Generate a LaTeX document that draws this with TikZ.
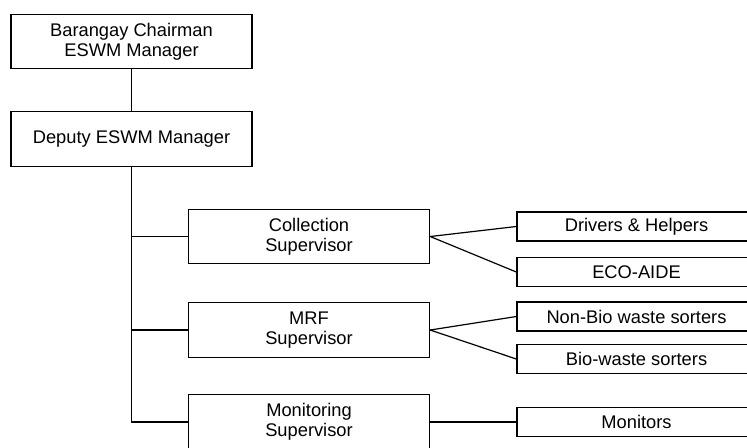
\documentclass[tikz,border=0pt]{standalone}
\usepackage{fontspec}
\setmainfont{Liberation Sans}
\usepackage{tikz}
\usetikzlibrary{positioning}

\begin{document}
\begin{tikzpicture}[x=0.5pt, y=-0.5pt,
  box/.style={draw, line width=0.7pt, inner sep=0pt, minimum width=120.5pt, minimum height=27.25pt, align=center, font=\fontsize{9.15}{10}\selectfont},
  smallbox/.style={draw, line width=0.7pt, inner sep=0pt, minimum width=119.5pt, minimum height=14.5pt, font=\fontsize{9.15}{10}\selectfont},
  link/.style={line width=0.6pt}]
\useasboundingbox (0,0) rectangle (747,447);
% left column
\node[box] (chair) at (131.5,41.5) {Barangay Chairman\\ESWM Manager};
\node[box] (dep) at (131.5,139) {Deputy ESWM Manager};
% supervisors
\node[box] (coll) at (309,236.5) {Collection\\Supervisor};
\node[box] (mrf) at (309,330) {MRF\\Supervisor};
\node[box] (mon) at (309,422) {Monitoring\\Supervisor};
% staff
\node[smallbox] (drv) at (636.5,226.5) {Drivers \& Helpers};
\node[smallbox] (eco) at (636.5,272) {ECO-AIDE};
\node[smallbox] (nbio) at (636.5,316.5) {Non-Bio waste sorters};
\node[smallbox] (bio) at (636.5,359) {Bio-waste sorters};
\node[smallbox] (mons) at (636.5,422) {Monitors};
\draw[link] (chair) -- (dep);
\draw[link] (dep.south) -- (dep.south |- mon.west) -- (mon.west);
\draw[line width=0.4pt] (dep.south |- coll.west) -- (coll.west);
\draw[link] (dep.south |- mrf.west) -- (mrf.west);
\draw[link] (coll.east) -- (drv.west);
\draw[link] (coll.east) -- (eco.west);
\draw[link] (mrf.east) -- (nbio.west);
\draw[link] (mrf.east) -- (bio.west);
\draw[link] (mon.east) -- (mons.west);
\end{tikzpicture}
\end{document}
